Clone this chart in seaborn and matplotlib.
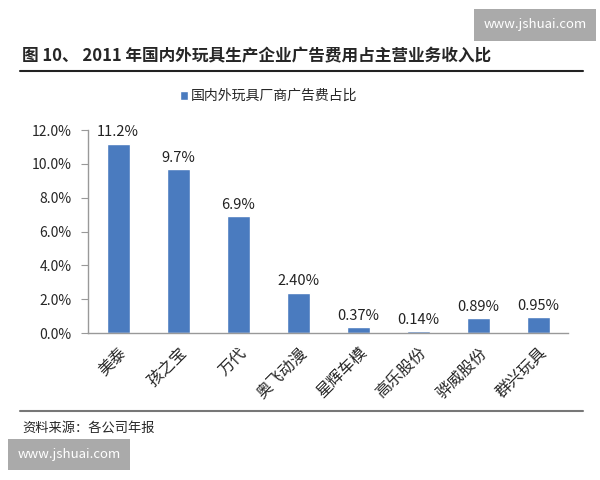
import numpy as np
import pandas as pd
import seaborn as sns
import matplotlib
matplotlib.use('Agg')
import matplotlib.pyplot as plt
from matplotlib.lines import Line2D
from matplotlib.patches import Patch

# datos
empresas = ['美泰', '孩之宝', '万代', '奥飞动漫', '星辉车模', '高乐股份', '骅威股份', '群兴玩具']
ratio = [11.2, 9.7, 6.9, 2.40, 0.37, 0.14, 0.89, 0.95]
etiquetas = ['11.2%', '9.7%', '6.9%', '2.40%', '0.37%', '0.14%', '0.89%', '0.95%']
yticks = [0, 2, 4, 6, 8, 10, 12]
ytick_labels = ['0.0%', '2.0%', '4.0%', '6.0%', '8.0%', '10.0%', '12.0%']
serie = '国内外玩具厂商广告费占比'
titulo = '图 10、 2011 年国内外玩具生产企业广告费用占主营业务收入比'
fuente = '资料来源：各公司年报'
marca = 'www.jshuai.com'

sns.set_style('white')
plt.rcParams['font.family'] = ['Noto Sans CJK SC', 'DejaVu Sans']

color_barra = '#4a7bbf'
df = pd.DataFrame({'empresa': empresas, 'ratio': ratio})

fig = plt.figure(figsize=(6, 4.8), dpi=100)
ax = fig.add_axes([0.147, 0.306, 0.8, 0.423])

sns.barplot(data=df, x='empresa', y='ratio', color=color_barra, saturation=1,
            width=0.38, ax=ax)

for i, (v, t) in enumerate(zip(ratio, etiquetas)):
    ax.text(i, v + 0.25, t, ha='center', va='bottom', fontsize=10.5, color='#222222')

ax.set_ylim(0, 12)
ax.set_xlim(-0.5, len(empresas) - 0.5)
ax.set_yticks(yticks)
ax.set_yticklabels(ytick_labels, fontsize=10)
ax.set_xticks(range(len(empresas)))
ax.set_xticklabels(empresas, rotation=45, ha='right', rotation_mode='anchor', fontsize=11.5)
ax.set_xticks(np.arange(-0.5, len(empresas)), minor=True)
ax.tick_params(axis='x', which='major', length=0, pad=8)
ax.tick_params(axis='x', which='minor', length=5, color='#999999', direction='out')
ax.tick_params(axis='y', length=5, color='#999999', direction='out', left=True, pad=7)
ax.set_xlabel('')
ax.set_ylabel('')
for lado in ['top', 'right']:
    ax.spines[lado].set_visible(False)
for lado in ['left', 'bottom']:
    ax.spines[lado].set_color('#999999')
    ax.spines[lado].set_linewidth(1)

leg = fig.legend(handles=[Patch(facecolor=color_barra, label=serie)],
                 loc='center', bbox_to_anchor=(0.448, 0.8), frameon=False,
                 fontsize=10, handlelength=0.6, handleheight=0.6, handletextpad=0.2)

fig.text(0.037, 0.883, titulo, fontsize=12, fontweight='bold', va='center', ha='left')
fig.add_artist(Line2D([0.033, 0.972], [0.853, 0.853], color='#222222', lw=1.5))
fig.add_artist(Line2D([0.033, 0.972], [0.144, 0.144], color='#777777', lw=1.5))
fig.text(0.037, 0.108, fuente, fontsize=9.5, va='center', ha='left')

fig.text(0.892, 0.948, marca, fontsize=9.5, color='white', ha='center', va='center',
         bbox=dict(boxstyle='square,pad=0.7', facecolor='#aaaaaa', edgecolor='none'))
fig.text(0.115, 0.053, marca, fontsize=9.5, color='white', ha='center', va='center',
         bbox=dict(boxstyle='square,pad=0.7', facecolor='#aaaaaa', edgecolor='none'))

fig.savefig('out.png', dpi=100)
